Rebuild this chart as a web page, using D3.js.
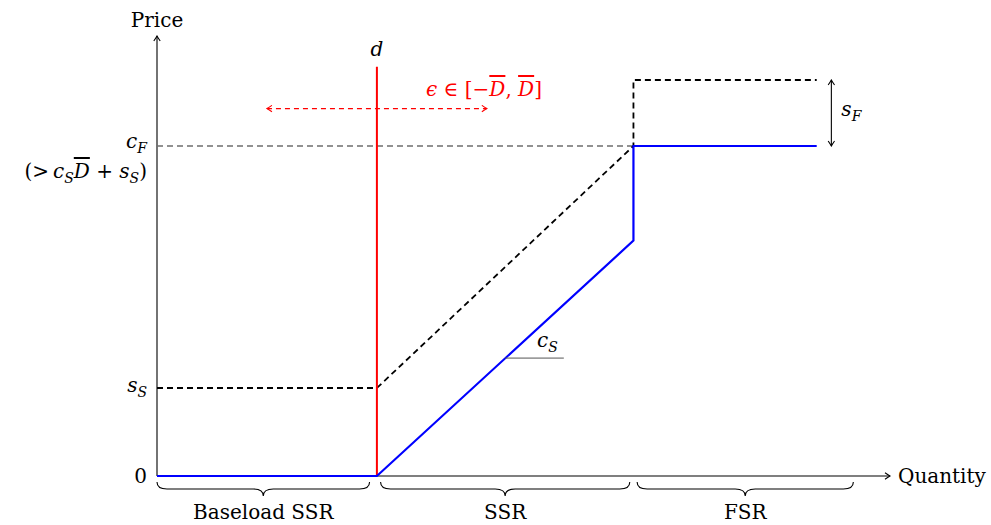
<!DOCTYPE html>
<html><head><meta charset="utf-8">
<script src="https://cdn.jsdelivr.net/npm/d3@7/dist/d3.min.js"></script>
<style>
body{margin:0;background:#fff}
text{font-family:"DejaVu Serif",serif;font-size:20px;fill:#000}
.it{font-style:italic}
.ov{text-decoration:overline}
</style></head><body>
<svg id="c" width="991" height="525"></svg>
<script>
// ---- data (quantity units, price units) ----
const axisMax = {q: 10, p: 20};
const supplyQ = [0, 3, 6.5, 6.5, 9];        // blue supply curve
const supplyP = [0, 0, 10.7, 15, 15];
const bidQ = [0, 3, 6.5, 6.5, 9];           // black dashed curve
const bidP = [4, 4, 15, 18, 18];
const cF = 15, sS = 4, sFtop = 18;
const demandQ = 3, demandTop = 18.6;
const epsRange = [1.5, 4.5], epsP = 16.7;
const sFArrowQ = 9.2;
const cSLabel = {q0: 4.75, q1: 5.55, p: 5.36};
const braces = [
  {label: "Baseload SSR", q0: 0, q1: 2.9},
  {label: "SSR", q0: 3.05, q1: 6.45},
  {label: "FSR", q0: 6.55, q1: 9.5}
];

const svg = d3.select("#c");
const x = d3.scaleLinear().domain([0, axisMax.q]).range([157, 890]);
const y = d3.scaleLinear().domain([0, axisMax.p]).range([476, 36]);

const defs = svg.append("defs");
function marker(id, color){
  defs.append("marker").attr("id", id).attr("viewBox","-6 -4 7 8")
    .attr("refX",0).attr("refY",0).attr("markerWidth",7).attr("markerHeight",8)
    .attr("markerUnits","userSpaceOnUse").attr("orient","auto-start-reverse")
    .append("path").attr("d","M-5,-3.2 Q-1.5,-0.8 0,0 Q-1.5,0.8 -5,3.2")
    .attr("fill","none").attr("stroke",color).attr("stroke-width",1.1);
}
marker("ak","#000"); marker("ar","#f00");

const line = d3.line().x(d=>x(d[0])).y(d=>y(d[1]));

// axes
svg.append("path").attr("d", line([[0,0],[axisMax.q,0]])).attr("stroke","#000")
  .attr("stroke-width",1.1).attr("fill","none").attr("marker-end","url(#ak)");
svg.append("path").attr("d", line([[0,0],[0,axisMax.p]])).attr("stroke","#000")
  .attr("stroke-width",1.1).attr("fill","none").attr("marker-end","url(#ak)");
svg.append("text").attr("x", x(0)).attr("y", 27).attr("text-anchor","middle").text("Price");
svg.append("text").attr("x", x(axisMax.q)+8).attr("y", y(0)+7).text("Quantity");

// c_F grey dashed
svg.append("path").attr("d", line([[0,cF],[6.5,cF]])).attr("stroke","#6e6e6e")
  .attr("stroke-width",1.7).attr("stroke-dasharray","6,4").attr("fill","none");

// black dashed bid curve
svg.append("path").attr("d", line(bidQ.map((q,i)=>[q,bidP[i]]))).attr("stroke","#000")
  .attr("stroke-width",1.8).attr("stroke-dasharray","6,4").attr("fill","none");

// red demand line
svg.append("path").attr("d", line([[demandQ,0],[demandQ,demandTop]])).attr("stroke","#f00")
  .attr("stroke-width",2).attr("fill","none");
svg.append("text").attr("class","it").attr("x", x(demandQ)).attr("y", 56).attr("text-anchor","middle").text("d");

// epsilon arrow
svg.append("path").attr("d", line([[epsRange[0],epsP],[epsRange[1],epsP]])).attr("stroke","#f00")
  .attr("stroke-width",1.1).attr("stroke-dasharray","5,4").attr("fill","none")
  .attr("marker-start","url(#ar)").attr("marker-end","url(#ar)");
const et = svg.append("text").attr("x", 484).attr("y", 96).attr("text-anchor","middle").style("fill","#f00");
et.append("tspan").attr("class","it").text("ϵ");
et.append("tspan").text(" ∈ [−");
et.append("tspan").attr("class","it ov").text("D");
et.append("tspan").text(", ");
et.append("tspan").attr("class","it ov").text("D");
et.append("tspan").text("]");

// blue supply
svg.append("path").attr("d", line(supplyQ.map((q,i)=>[q,supplyP[i]]))).attr("stroke","#00f")
  .attr("stroke-width",2.2).attr("fill","none");

// s_F arrow
svg.append("path").attr("d", line([[sFArrowQ,cF],[sFArrowQ,sFtop]])).attr("stroke","#000")
  .attr("stroke-width",1.1).attr("fill","none")
  .attr("marker-start","url(#ak)").attr("marker-end","url(#ak)");
function sub(sel, base, s){
  sel.append("tspan").attr("class","it").text(base);
  sel.append("tspan").attr("class","it").attr("dy",5).style("font-size","14px").text(s);
  sel.append("tspan").attr("dy",-5).text("");
}
sub(svg.append("text").attr("x", x(sFArrowQ)+10).attr("y", 116), "s", "F");

// c_S label
svg.append("path").attr("d", line([[cSLabel.q0,cSLabel.p],[cSLabel.q1,cSLabel.p]])).attr("stroke","#555")
  .attr("stroke-width",1).attr("fill","none");
sub(svg.append("text").attr("x", 537).attr("y", 347), "c", "S");

// y labels
sub(svg.append("text").attr("x", 147).attr("y", y(cF)+2).attr("text-anchor","end"), "c", "F");
const t2 = svg.append("text").attr("x", 147).attr("y", y(cF)+32).attr("text-anchor","end");
t2.append("tspan").text("(>\u2009");
t2.append("tspan").attr("class","it").text("c");
t2.append("tspan").attr("class","it").attr("dy",5).style("font-size","14px").text("S");
t2.append("tspan").attr("class","it ov").attr("dy",-5).text("D");
t2.append("tspan").text(" + ");
t2.append("tspan").attr("class","it").text("s");
t2.append("tspan").attr("class","it").attr("dy",5).style("font-size","14px").text("S");
t2.append("tspan").attr("dy",-5).text(")");
sub(svg.append("text").attr("x", 147).attr("y", y(sS)+4).attr("text-anchor","end"), "s", "S");
svg.append("text").attr("x", 147).attr("y", y(0)+7).attr("text-anchor","end").text("0");

// braces
function bracePath(x0, x1, y0, a){
  const m = (x0+x1)/2, h = a/2, r = 10;
  return `M${x0},${y0} Q${x0},${y0+h} ${x0+r},${y0+h} L${m-r},${y0+h} Q${m},${y0+h} ${m},${y0+a}` +
         ` Q${m},${y0+h} ${m+r},${y0+h} L${x1-r},${y0+h} Q${x1},${y0+h} ${x1},${y0}`;
}
braces.forEach(b=>{
  svg.append("path").attr("d", bracePath(x(b.q0), x(b.q1), 482, 14))
    .attr("fill","none").attr("stroke","#000").attr("stroke-width",1.1);
  svg.append("text").attr("x",(x(b.q0)+x(b.q1))/2).attr("y",519).attr("text-anchor","middle").text(b.label);
});
</script></body></html>
